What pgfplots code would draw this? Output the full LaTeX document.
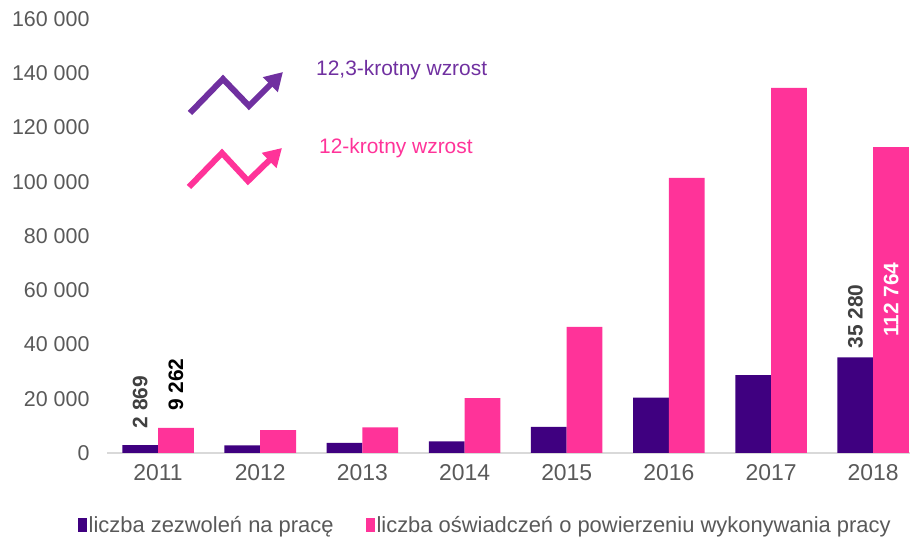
\documentclass[border=0pt]{standalone}
\usepackage{pgfplots}
\pgfplotsset{compat=1.18}
\usepackage{fontspec}
\setmainfont{Liberation Sans}
\usetikzlibrary{arrows.meta}

\definecolor{zezw}{HTML}{3F0080}
\definecolor{oswi}{HTML}{FF3399}
\definecolor{arrpurple}{HTML}{7030A0}
\definecolor{ticktext}{HTML}{595959}
\definecolor{axisgray}{HTML}{D9D9D9}
\definecolor{lbl}{HTML}{404040}

\begin{document}
\begin{tikzpicture}[x=1bp,y=1bp]
\path[use as bounding box] (0,0) rectangle (912,542);
\begin{axis}[
    at={(107bp,89bp)}, anchor=south west,
    scale only axis,
    width=803bp, height=434bp,
    xmin=-0.5, xmax=7.36,
    ymin=0, ymax=160000,
    ytick={0,20000,...,160000},
    yticklabels={0,20 000,40 000,60 000,80 000,100 000,120 000,140 000,160 000},
    scaled y ticks=false,
    xtick={0,...,7},
    xticklabels={2011,2012,2013,2014,2015,2016,2017,2018},
    axis lines=left,
    x axis line style={draw=axisgray, line width=1.5bp, -},
    y axis line style={draw=none},
    major tick length=0pt,
    tick label style={text=ticktext},
    yticklabel style={font=\fontsize{21.5}{24}\selectfont, xshift=-14bp},
    xticklabel style={font=\fontsize{23}{26}\selectfont, yshift=-8bp},
    ybar, bar width=0.35,
    clip=false,
    legend columns=2,
    legend style={at={(0.471,-0.166)}, anchor=center, draw=none,
        font=\fontsize{22}{24}\selectfont, text=ticktext,
        /tikz/every even column/.append style={column sep=30bp}},
    legend image code/.code={\fill[#1,draw=none] (0bp,-7bp) rectangle (9bp,7bp);},
]
\addplot[fill=zezw, draw=none, bar shift=-0.175] coordinates {
    (0,2869) (1,2800) (2,3700) (3,4300) (4,9600) (5,20400) (6,28700) (7,35280)
};
\addplot[fill=oswi, draw=none, bar shift=0.175] coordinates {
    (0,9262) (1,8400) (2,9400) (3,20200) (4,46500) (5,101400) (6,134600) (7,112764)
};
\legend{liczba zezwoleń na pracę, liczba oświadczeń o powierzeniu wykonywania pracy}

\node[rotate=90, anchor=west, text=lbl, font=\bfseries\fontsize{21}{24}\selectfont, inner sep=0pt]
    at (axis cs:-0.175,9000) {2 869};
\node[rotate=90, anchor=west, text=black, font=\bfseries\fontsize{21}{24}\selectfont, inner sep=0pt]
    at (axis cs:0.175,15500) {9 262};
\node[rotate=90, anchor=west, text=lbl, font=\bfseries\fontsize{21}{24}\selectfont, inner sep=0pt]
    at (axis cs:6.825,38500) {35 280};
\node[rotate=90, anchor=center, text=white, font=\bfseries\fontsize{21}{24}\selectfont, inner sep=0pt]
    at (axis cs:7.175,56500) {112 764};
\end{axis}

% annotation arrows (pixel coordinates, y flipped)
\draw[arrpurple, line width=6bp, -{Triangle[length=18bp,width=20bp]}]
    (190,542-113) -- (223,542-79) -- (249,542-106) -- (283,542-72);
\draw[oswi, line width=6bp, -{Triangle[length=18bp,width=20bp]}]
    (189,542-187) -- (222,542-153) -- (248,542-181) -- (282,542-148);
\node[anchor=west, text=arrpurple, font=\fontsize{21}{24}\selectfont, inner sep=0pt]
    at (316,542-70) {12,3-krotny wzrost};
\node[anchor=west, text=oswi, font=\fontsize{21}{24}\selectfont, inner sep=0pt]
    at (319,542-148) {12-krotny wzrost};
\end{tikzpicture}
\end{document}
